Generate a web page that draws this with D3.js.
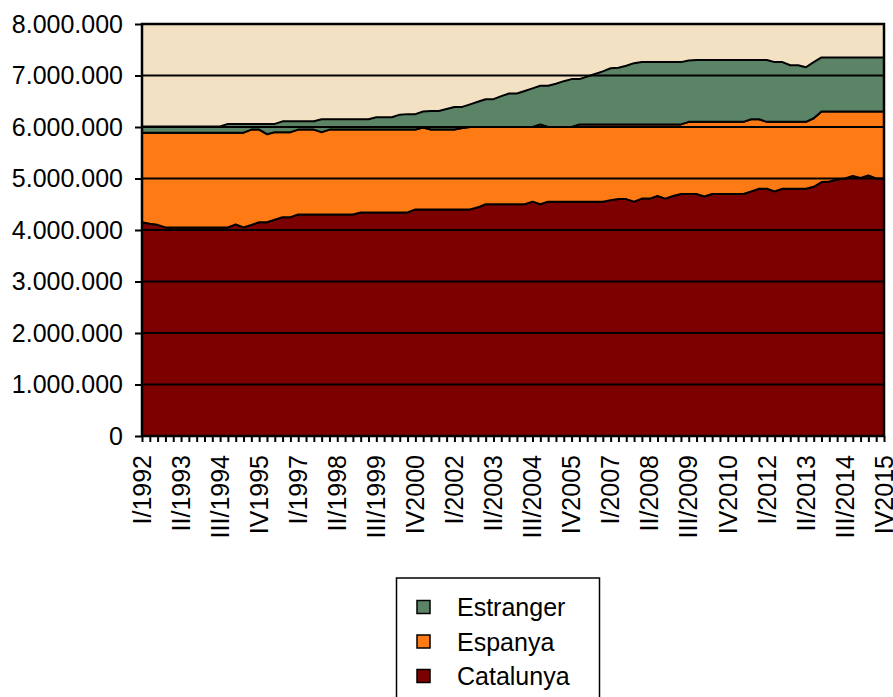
<!DOCTYPE html>
<html>
<head>
<meta charset="utf-8">
<script src="https://cdn.jsdelivr.net/npm/d3@7"></script>
<style>
  body { margin: 0; background: #fff; }
  svg { display: block; }
  text { font-family: "Liberation Sans", Arial, sans-serif; fill: #000; }
</style>
</head>
<body>
<div id="chart"></div>
<script>
//quarterly categories, I/1992 .. IV/2015 (the IV quarters have no slash in the original)
var years = d3.range(1992, 2016);
var quarterNames = ["I", "II", "III", "IV"];
var quarters = [];
years.forEach(function(y) {
  quarterNames.forEach(function(q) {
    quarters.push(q == "IV" ? q + y : q + "/" + y);
  });
});

//series values, thousands
var catalunya = [4150,4120,4100,4050,4050,4050,4050,4050,4050,4050,4050,4050,4110,4050,4100,4150,
  4150,4200,4250,4250,4300,4300,4300,4300,4300,4300,4300,4300,4340,4340,4340,4340,
  4340,4340,4340,4400,4400,4400,4400,4400,4400,4400,4400,4440,4500,4500,4500,4500,
  4500,4500,4550,4500,4550,4550,4550,4550,4550,4550,4550,4550,4580,4600,4600,4550,
  4610,4610,4660,4610,4660,4700,4700,4700,4650,4700,4700,4700,4700,4700,4750,4800,
  4800,4750,4800,4800,4800,4800,4840,4930,4940,4980,5000,5050,5010,5060,5000,5000];

var espanya = [1740,1770,1790,1840,1840,1840,1840,1840,1840,1840,1840,1840,1780,1840,1850,1800,
  1710,1700,1650,1650,1650,1650,1650,1600,1650,1650,1650,1650,1610,1610,1610,1610,
  1610,1610,1610,1550,1590,1550,1550,1550,1550,1580,1600,1560,1500,1500,1500,1500,
  1500,1500,1450,1550,1450,1450,1450,1450,1500,1500,1500,1500,1470,1450,1450,1500,
  1440,1440,1390,1440,1390,1350,1400,1400,1450,1400,1400,1400,1400,1400,1400,1350,
  1300,1350,1300,1300,1300,1300,1330,1370,1360,1320,1300,1250,1290,1240,1300,1300];

var estranger = [120,120,120,120,120,120,120,120,120,120,120,170,170,170,110,110,
  200,160,210,210,160,160,160,250,200,200,200,200,200,200,240,240,
  240,290,300,300,310,360,360,400,440,410,440,490,540,540,600,650,
  650,700,750,750,800,840,890,930,880,930,980,1030,1090,1100,1140,1190,
  1210,1210,1210,1210,1210,1210,1190,1200,1200,1200,1200,1200,1200,1200,1150,1150,
  1200,1160,1160,1100,1100,1060,1090,1050,1050,1050,1050,1050,1050,1050,1050,1050];

var seriesNames = ["Catalunya", "Espanya", "Estranger"];
var seriesColors = {"Catalunya": "#7d0000", "Espanya": "#fd7a15", "Estranger": "#5b8466"};
var yTicks = [0,1000,2000,3000,4000,5000,6000,7000,8000];

//build rows for d3.stack
var rows = quarters.map(function(q, i) {
  return {q: q, Catalunya: catalunya[i], Espanya: espanya[i], Estranger: estranger[i]};
});

var W = 893, H = 697;
var plot = {left: 142, right: 884, top: 24, bottom: 436};
var fontSize = "25px";

var svg = d3.select("#chart").append("svg")
  .attr("width", W)
  .attr("height", H);

var x = d3.scalePoint().domain(quarters).range([plot.left, plot.right]);
var y = d3.scaleLinear().domain([0, 8000]).range([plot.bottom, plot.top]);

var loc = d3.formatLocale({decimal: ",", thousands: ".", grouping: [3], currency: ["", ""]});
var fmt = loc.format(",d");

//plot background
svg.append("rect")
  .attr("x", plot.left).attr("y", plot.top)
  .attr("width", plot.right - plot.left).attr("height", plot.bottom - plot.top)
  .attr("fill", "#f3e1c3");

//stacked areas
var stacked = d3.stack().keys(seriesNames)(rows);
var area = d3.area()
  .x(function(d) { return x(d.data.q); })
  .y0(function(d) { return y(d[0]); })
  .y1(function(d) { return y(d[1]); });

svg.append("g").selectAll("path")
  .data(stacked).enter()
  .append("path")
    .attr("d", area)
    .attr("fill", function(d) { return seriesColors[d.key]; })
    .attr("stroke", "#000")
    .attr("stroke-width", 2)
    .attr("stroke-linejoin", "round");

//gridlines
svg.append("g").selectAll("line")
  .data(yTicks.slice(1, -1)).enter()
  .append("line")
    .attr("x1", plot.left).attr("x2", plot.right)
    .attr("y1", function(d) { return y(d); })
    .attr("y2", function(d) { return y(d); })
    .attr("stroke", "#000")
    .attr("stroke-width", 2);

//plot border
svg.append("rect")
  .attr("x", plot.left).attr("y", plot.top)
  .attr("width", plot.right - plot.left).attr("height", plot.bottom - plot.top)
  .attr("fill", "none")
  .attr("stroke", "#000")
  .attr("stroke-width", 2.5);

//y axis
var yAxis = svg.append("g")
  .attr("transform", "translate(" + plot.left + ",0)")
  .call(d3.axisLeft(y).tickValues(yTicks).tickSize(7).tickPadding(12)
    .tickFormat(function(d) { return fmt(d * 1000); }));
yAxis.select(".domain").remove();
yAxis.selectAll("line").attr("stroke", "#000").attr("stroke-width", 2);
yAxis.selectAll("text").attr("font-size", fontSize).attr("font-family", "Liberation Sans, Arial, sans-serif");

//x axis: one tick per quarter
var xTicks = svg.append("g")
  .attr("transform", "translate(0," + plot.bottom + ")")
  .call(d3.axisBottom(x).tickSize(6).tickFormat(""));
xTicks.select(".domain").remove();
xTicks.selectAll("line").attr("stroke", "#000").attr("stroke-width", 2);

//x labels every 5 quarters, rotated
var xLabels = svg.append("g")
  .attr("transform", "translate(0," + plot.bottom + ")")
  .call(d3.axisBottom(x).tickSize(0)
    .tickValues(quarters.filter(function(d, i) { return i % 5 == 0; })));
xLabels.select(".domain").remove();
xLabels.selectAll("text")
  .attr("font-size", fontSize)
  .attr("font-family", "Liberation Sans, Arial, sans-serif")
  .attr("transform", "rotate(-90)")
  .attr("text-anchor", "end")
  .attr("x", -19)
  .attr("y", 0)
  .attr("dy", "0.33em");

//legend
var legend = svg.append("g");
legend.append("rect")
  .attr("x", 396.5).attr("y", 578)
  .attr("width", 203).attr("height", 140)
  .attr("fill", "#fff")
  .attr("stroke", "#000")
  .attr("stroke-width", 1.5);

var legendItems = ["Estranger", "Espanya", "Catalunya"];
var item = legend.selectAll("g.item")
  .data(legendItems).enter()
  .append("g")
    .attr("class", "item")
    .attr("transform", function(d, i) { return "translate(0," + (607 + i * 34.5) + ")"; });

item.append("rect")
  .attr("x", 417).attr("y", -6.5)
  .attr("width", 13).attr("height", 13)
  .attr("fill", function(d) { return seriesColors[d]; })
  .attr("stroke", "#000")
  .attr("stroke-width", 1.5);

item.append("text")
  .attr("x", 457)
  .attr("y", 0)
  .attr("dy", "0.36em")
  .attr("font-size", fontSize)
  .text(function(d) { return d; });
</script>
</body>
</html>
